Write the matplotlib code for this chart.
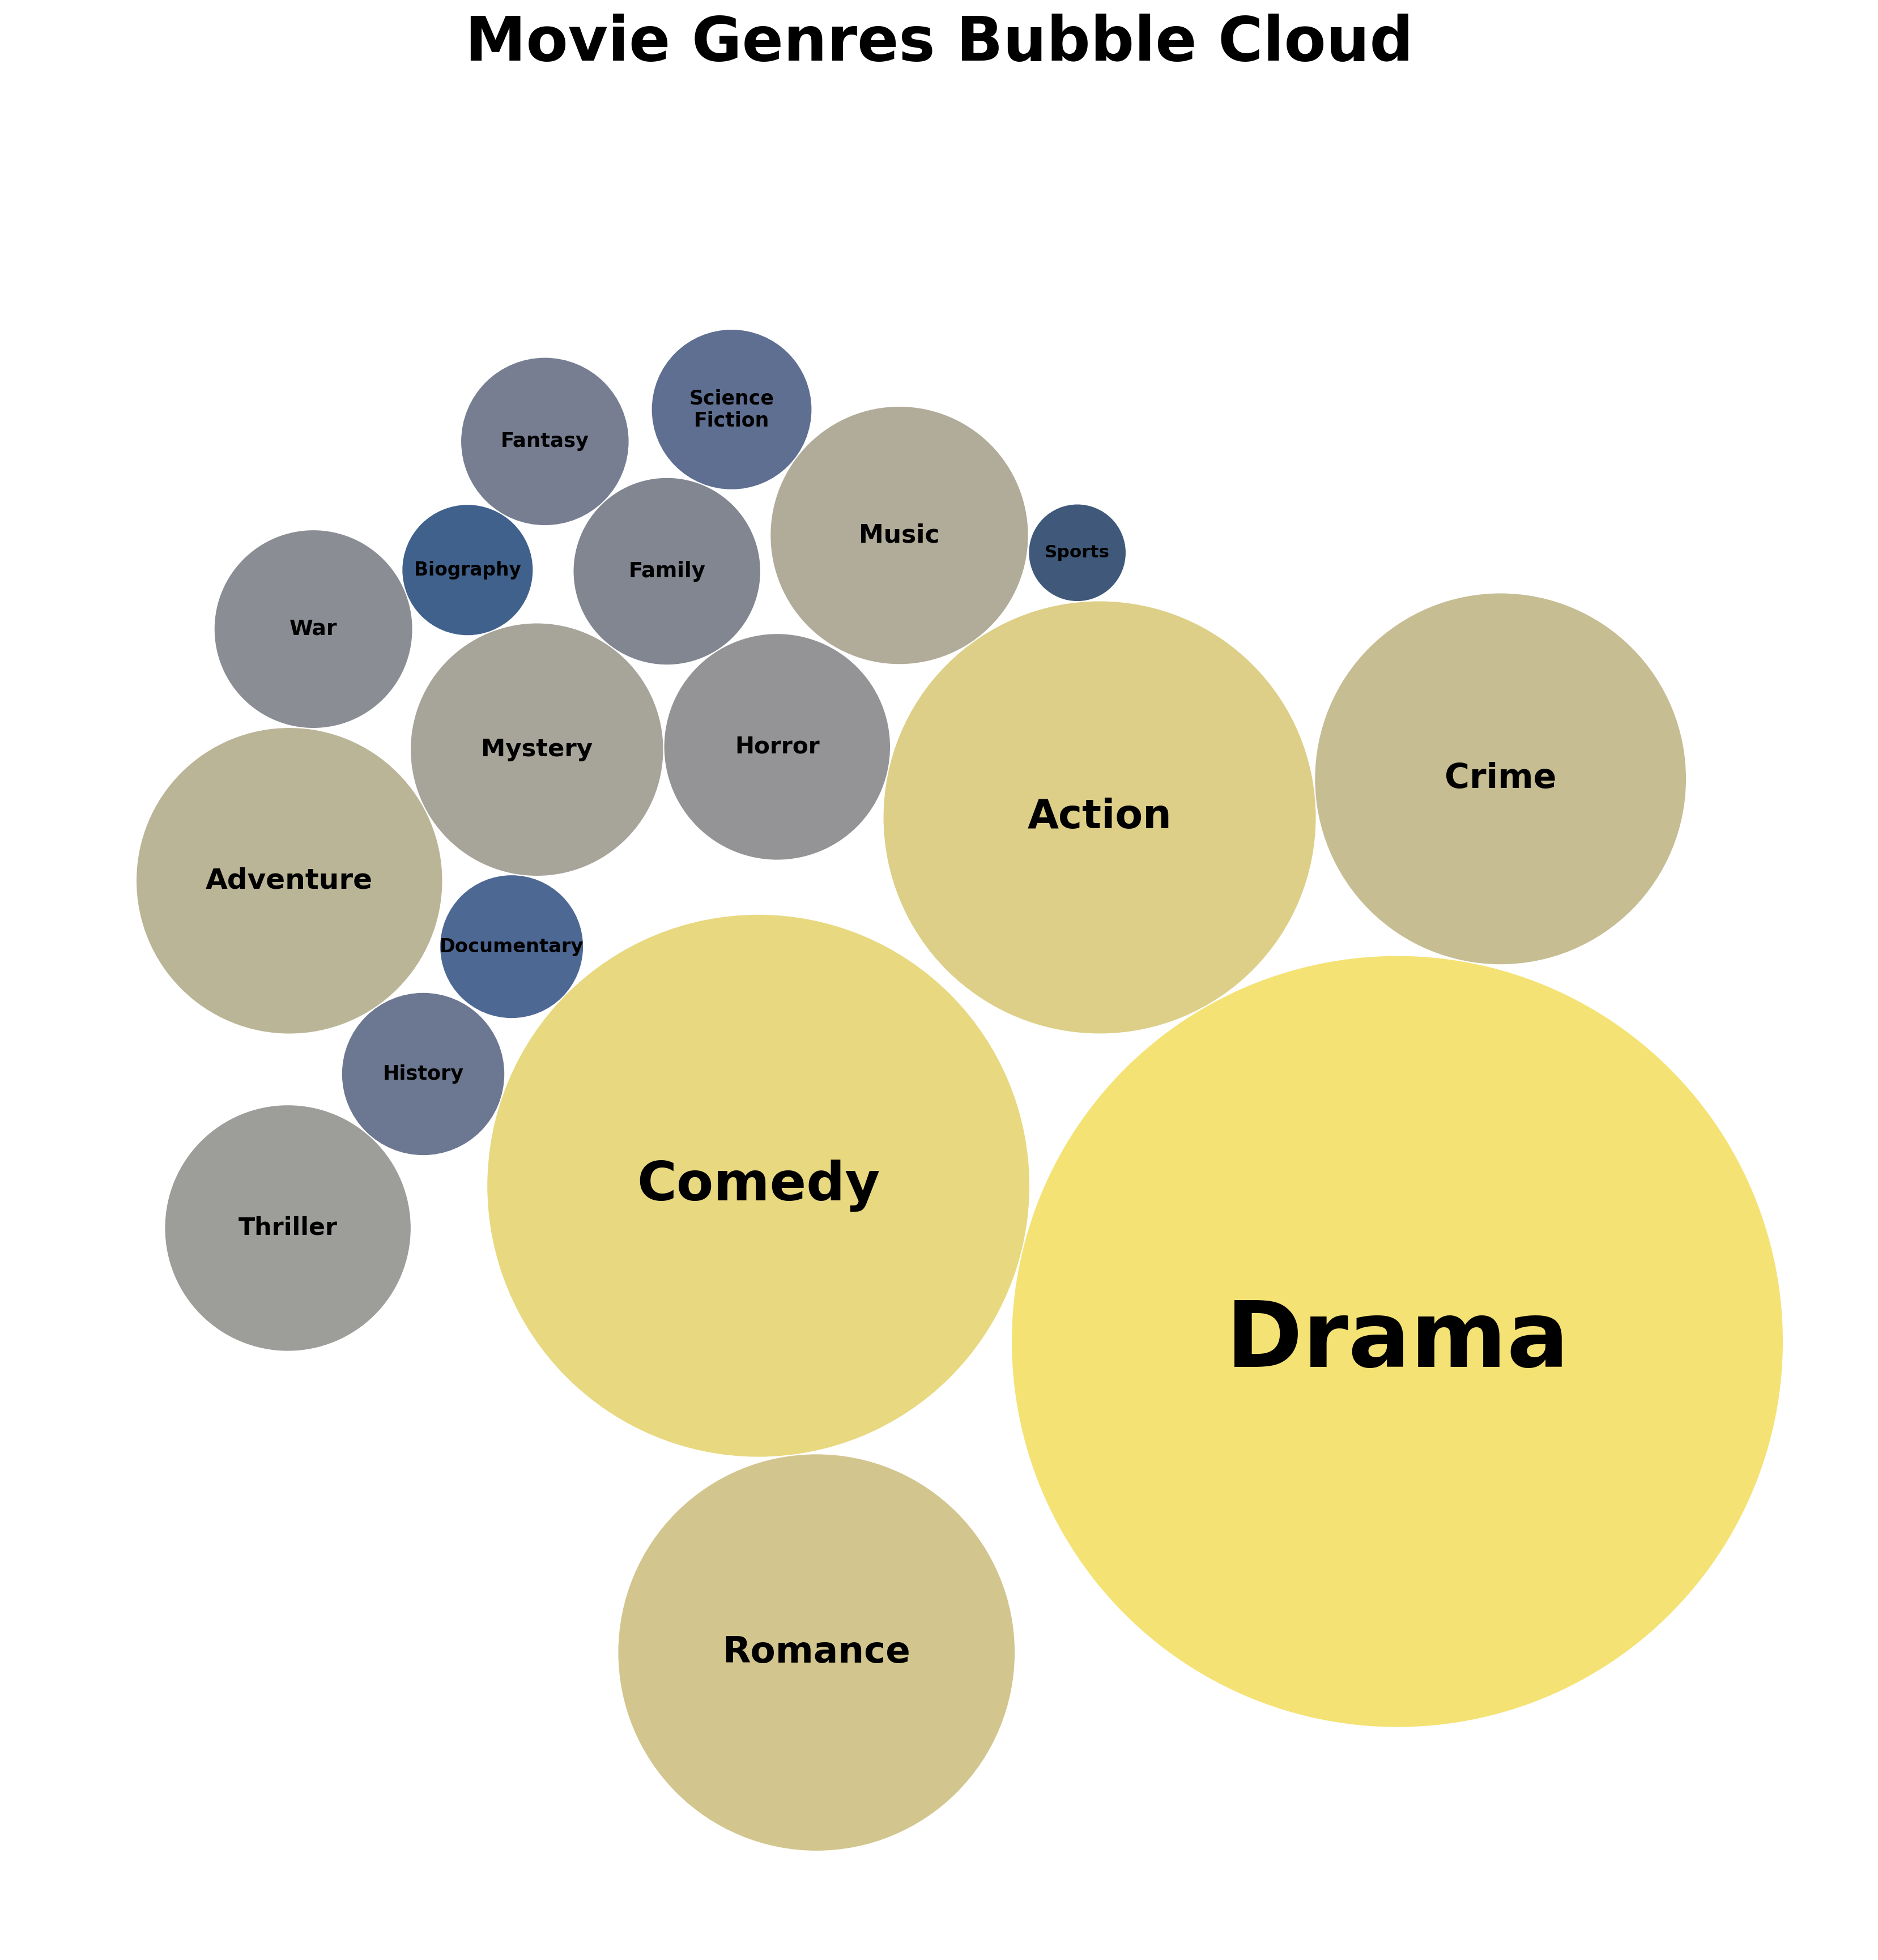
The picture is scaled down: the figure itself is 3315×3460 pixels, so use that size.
import math
import numpy as np
import matplotlib
matplotlib.use("Agg")
import matplotlib.pyplot as plt
from matplotlib.patches import Circle

# ---- data (in the order fed to the bubble packing) ----
genres = ["Drama", "Comedy", "Mystery", "Romance", "History", "Action", "Family",
          "Documentary", "Adventure", "Thriller", "Music", "Horror", "Sports",
          "Biography", "War", "Crime", "Science Fiction", "Fantasy"]
counts = [3500, 1730, 375, 925, 155, 1100, 205, 120, 550, 355, 390, 300, 55,
          100, 230, 810, 150, 165]
title = "Movie Genres Bubble Cloud"


def collapse(areas, spacing=0.1, n_iter=50):
    """Packed-bubble layout: start on a grid, then move every bubble
    towards the area-weighted centre of mass until they touch."""
    A = np.asarray(areas, float)[None, :]
    n = A.shape[1]
    K = 1
    R = np.sqrt(A / np.pi)
    maxstep = 2 * R.max(1) + spacing
    step = maxstep / 2
    L = int(math.ceil(math.sqrt(n)))
    kk = np.arange(n)
    X = ((kk % L)[None, :] * maxstep[:, None]).astype(float)
    Y = ((kk // L)[None, :] * maxstep[:, None]).astype(float)
    W = A.sum(1)
    cx = (A * X).sum(1) / W; cy = (A * Y).sum(1) / W
    ar = np.arange(K)
    for _ in range(n_iter):
        moves = np.zeros(K)
        for i in range(n):
            xi = X[:, i].copy(); yi = Y[:, i].copy(); ri = R[:, i]
            dx = cx - xi; dy = cy - yi
            d = np.hypot(dx, dy); d[d == 0] = 1e-12
            nx = xi + dx / d * step; ny = yi + dy / d * step
            dist = np.hypot(nx[:, None] - X, ny[:, None] - Y) - ri[:, None] - R - spacing
            dist[:, i] = np.inf
            minj = dist.argmin(1)
            free = dist[ar, minj] >= 0
            ddx = X[ar, minj] - xi; ddy = Y[ar, minj] - yi
            dd = np.hypot(ddx, ddy); dd[dd == 0] = 1e-12
            ddx = ddx / dd; ddy = ddy / dd
            ox, oy = ddy, -ddx
            p1x = xi + ox * step; p1y = yi + oy * step
            p2x = xi - ox * step; p2y = yi - oy * step
            d1 = np.hypot(cx - p1x, cy - p1y); d2 = np.hypot(cx - p2x, cy - p2y)
            c1 = d1 < d2
            px = np.where(c1, p1x, p2x); py = np.where(c1, p1y, p2y)
            dist2 = np.hypot(px[:, None] - X, py[:, None] - Y) - ri[:, None] - R - spacing
            dist2[:, i] = np.inf
            ok2 = (dist2.min(1) >= 0) & ~free
            newx = np.where(free, nx, np.where(ok2, px, xi))
            newy = np.where(free, ny, np.where(ok2, py, yi))
            cx = cx + A[:, i] * (newx - xi) / W
            cy = cy + A[:, i] * (newy - yi) / W
            X[:, i] = newx; Y[:, i] = newy
            moves += free
        step = np.where(moves / n < 0.1, step / 2, step)
    return X[0], Y[0], R[0]


X, Y, R = collapse(counts)
n = len(genres)

fig = plt.figure(figsize=(33.15, 34.60), dpi=100)
ax = fig.add_axes([241 / 3315, 1 - 3430 / 3460, 2906 / 3315, 3011 / 3460])

ranks = np.argsort(np.argsort(counts))
cmap = plt.cm.cividis
vmax = max(counts)
for k in range(n):
    c = cmap(ranks[k] / n)
    ax.add_patch(Circle((X[k], Y[k]), R[k], facecolor=c, alpha=0.75,
                        edgecolor="none"))
    fs = 20.9 + 96.5 * counts[k] / vmax
    ax.text(X[k], Y[k], genres[k].replace(" ", "\n"), ha="center", va="center",
            fontsize=fs, fontweight="bold", color="black")

# x axis runs right-to-left
ax.set_xlim((X + R).max(), (X - R).min())
ax.set_ylim((Y - R).min(), (Y + R).max())
ax.set_aspect("equal", adjustable="box", anchor="C")
ax.axis("off")

fig.text(0.5, 1 - 77 / 3460, title, ha="center", va="center",
         fontsize=77.8, fontweight="bold")
fig.savefig("out.png", dpi=100)
